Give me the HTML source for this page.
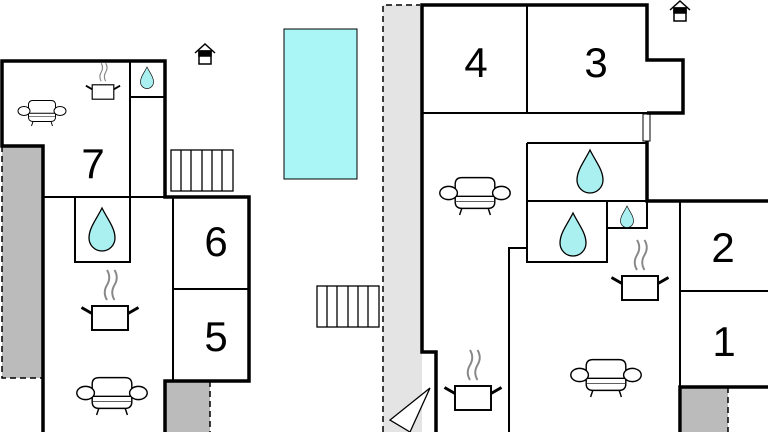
<!DOCTYPE html>
<html><head><style>html,body{margin:0;padding:0;background:#fff}svg{display:block}</style></head><body>
<svg width="768" height="432" viewBox="0 0 768 432" xmlns="http://www.w3.org/2000/svg">
<defs>
<g id="sofa" fill="#fff" stroke="#000" stroke-width="1.3">
<path d="M-18,-8 Q-18,-14 -12,-14 H12 Q18,-14 18,-8 V8 H-18 Z"/>
<path d="M-18,8 Q-18,14 -12,14 H12 Q18,14 18,8"/>
<line x1="-18" y1="3" x2="18" y2="3"/>
<ellipse cx="-24" cy="0" rx="8" ry="6"/><ellipse cx="24" cy="0" rx="8" ry="6"/>
<line x1="-12" y1="14" x2="-14" y2="20"/><line x1="12" y1="14" x2="14" y2="20"/>
</g>
<g id="pot" fill="#fff" stroke="#000" stroke-width="1.3">
<rect x="-12" y="-8" width="24" height="16"/>
<path d="M-12,-3 L-19,-7 M12,-3 L19,-7" stroke-width="2"/>
<path d="M-2,-12 q-3,-5 0,-10 q3,-5 0,-10 M3,-12 q-3,-5 0,-10 q3,-5 0,-10" stroke="#888" fill="none"/>
</g>
<path id="drop" d="M0,-22 C6,-10 13,-2 13,8 A13,13 0 0 1 -13,8 C-13,-2 -6,-10 0,-22 Z" fill="#aaf0f0" stroke="#000" stroke-width="1.3"/>
<g id="ent" stroke="#000" fill="#fff" stroke-width="1.5">
<path d="M-10,-2 L0,-11 L10,-2" fill="none"/>
<rect x="-6" y="-4" width="12" height="13"/><rect x="-6" y="-4" width="12" height="5" fill="#000"/>
</g>
</defs>
<rect x="2" y="146" width="41" height="232" fill="#bbb"/>
<path d="M2,146 V378 H43" fill="none" stroke="#000" stroke-width="1.5" stroke-dasharray="6,4"/>
<rect x="165" y="381" width="45" height="51" fill="#bbb"/>
<path d="M210,381 V432" stroke="#000" stroke-width="1.5" stroke-dasharray="6,4"/>
<rect x="383" y="5" width="39" height="427" fill="#e4e4e4"/>
<path d="M383,432 V5 H420" fill="none" stroke="#000" stroke-width="1.5" stroke-dasharray="6,4"/>
<rect x="682" y="387" width="46" height="45" fill="#bbb"/>
<path d="M728,387 V432" stroke="#000" stroke-width="1.5" stroke-dasharray="6,4"/>
<rect x="284" y="29" width="73" height="150" fill="#aaf5f5" stroke="#000" stroke-width="1"/>
<g fill="#fff" stroke="#000" stroke-width="1.3">
<rect x="171" y="150" width="62" height="41"/>
<path d="M181,150V191M191,150V191M202,150V191M212,150V191M222,150V191"/>
<rect x="317" y="286" width="62" height="41"/>
<path d="M327,286V327M337,286V327M348,286V327M358,286V327M368,286V327"/>
</g>
<g fill="none" stroke="#000">
<path d="M43,432 V146 H2 V61 H165 V197 H249 V381 H165 V432" stroke-width="3.5"/>
<g stroke-width="2">
<path d="M130,61 V197 M130,97 H165 M43,197 H165 M75,197 V262 H130 V197 M173,197 V381 M173,289 H249"/>
</g>
</g>
<g fill="none" stroke="#000">
<path d="M436,432 V352 H422 V5 H647 V60 H683 V113 H647" stroke-width="3.5"/>
<path d="M647,141 V201 H768" stroke-width="3.5"/>
<path d="M680,432 V387 H768" stroke-width="3.5"/>
<g stroke-width="2">
<path d="M422,113 H647 M527,5 V113 M527,143 H647 M527,143 V262 H607 V201 M527,201 H647 M607,228 H647 V201 M527,248 H509 V432 M680,201 V387 M680,291 H768"/>
<rect x="643" y="114" width="7" height="27" stroke-width="1"/>
</g>
</g>
<path d="M430,388 L390,420 L410,432 Z" fill="#fff" stroke="#000" stroke-width="1.3"/>
<g transform="translate(42,111) scale(0.75)"><use href="#sofa"/></g>
<g transform="translate(103,92) scale(0.9)"><use href="#pot"/></g>
<g transform="translate(147,78) scale(0.5)"><use href="#drop"/></g>
<use href="#drop" x="102" y="230"/>
<g transform="translate(110,318) scale(1.5)"><use href="#pot"/></g>
<g transform="translate(112,393) scale(1.1)"><use href="#sofa"/></g>
<use href="#ent" x="205" y="55"/>
<use href="#ent" x="680" y="12"/>
<g transform="translate(475,193) scale(1.1)"><use href="#sofa"/></g>
<use href="#drop" x="590" y="172"/>
<use href="#drop" x="573" y="235"/>
<g transform="translate(627,217) scale(0.5)"><use href="#drop"/></g>
<g transform="translate(640,288) scale(1.5)"><use href="#pot"/></g>
<g transform="translate(606,375) scale(1.1)"><use href="#sofa"/></g>
<g transform="translate(473,398) scale(1.5)"><use href="#pot"/></g>
<g font-family="Liberation Sans, sans-serif" font-size="42" text-anchor="middle" fill="#000">
<text x="93" y="178">7</text>
<text x="216" y="256">6</text>
<text x="216" y="351">5</text>
<text x="476" y="77">4</text>
<text x="596" y="77">3</text>
<text x="723" y="262">2</text>
<text x="724" y="356">1</text>
</g>
</svg>
</body></html>
